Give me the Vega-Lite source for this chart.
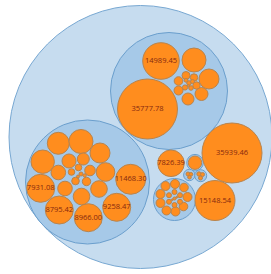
{
  "$schema": "https://vega.github.io/schema/vega-lite/v6.json",
  "width": 271,
  "height": 274,
  "padding": 0,
  "autosize": {"type": "none"},
  "background": "white",
  "config": {"view": {"stroke": null}},
  "data": {"values": [
    {"cx": 140.5, "cy": 137, "r": 131.5, "kind": "root", "depth": 0},
    {"cx": 169, "cy": 91, "r": 58.5, "kind": "group", "depth": 1},
    {"cx": 87.5, "cy": 182, "r": 62, "kind": "group", "depth": 1},
    {"cx": 174.5, "cy": 199.5, "r": 21, "kind": "group", "depth": 1},
    {"cx": 195, "cy": 162.7, "r": 8.3, "kind": "group", "depth": 1},
    {"cx": 189.3, "cy": 175, "r": 5.7, "kind": "group", "depth": 1},
    {"cx": 200.7, "cy": 175.7, "r": 6, "kind": "group", "depth": 1},

    {"cx": 147.5, "cy": 109, "r": 30, "kind": "leaf", "depth": 2, "label": "35777.78"},
    {"cx": 161, "cy": 61, "r": 18.3, "kind": "leaf", "depth": 2, "label": "14989.45"},
    {"cx": 194, "cy": 60, "r": 12, "kind": "leaf", "depth": 2},
    {"cx": 209, "cy": 79, "r": 10, "kind": "leaf", "depth": 2},
    {"cx": 201.5, "cy": 94, "r": 6.5, "kind": "leaf", "depth": 2},
    {"cx": 188, "cy": 99, "r": 6, "kind": "leaf", "depth": 2},
    {"cx": 178.5, "cy": 90.5, "r": 4.5, "kind": "leaf", "depth": 2},
    {"cx": 178.5, "cy": 81, "r": 4.3, "kind": "leaf", "depth": 2},
    {"cx": 186, "cy": 75.5, "r": 4, "kind": "leaf", "depth": 2},
    {"cx": 194, "cy": 77.5, "r": 3.7, "kind": "leaf", "depth": 2},
    {"cx": 196.5, "cy": 85.5, "r": 3.7, "kind": "leaf", "depth": 2},
    {"cx": 189, "cy": 83, "r": 2.3, "kind": "leaf", "depth": 2},
    {"cx": 185, "cy": 87.5, "r": 2.6, "kind": "leaf", "depth": 2},
    {"cx": 186, "cy": 80.3, "r": 1.9, "kind": "leaf", "depth": 2},
    {"cx": 191, "cy": 88, "r": 2.3, "kind": "leaf", "depth": 2},
    {"cx": 192.5, "cy": 81.5, "r": 2, "kind": "leaf", "depth": 2},
    {"cx": 188.5, "cy": 85.8, "r": 1.1, "kind": "leaf", "depth": 2},

    {"cx": 130.7, "cy": 179.3, "r": 15, "kind": "leaf", "depth": 2, "label": "11468.30"},
    {"cx": 40.7, "cy": 188.3, "r": 14, "kind": "leaf", "depth": 2, "label": "7931.08"},
    {"cx": 59.3, "cy": 210, "r": 14, "kind": "leaf", "depth": 2, "label": "8795.42"},
    {"cx": 88.3, "cy": 217.7, "r": 14, "kind": "leaf", "depth": 2, "label": "8966.00"},
    {"cx": 116.7, "cy": 207.3, "r": 14, "kind": "leaf", "depth": 2, "label": "9258.47"},
    {"cx": 42.7, "cy": 161.7, "r": 11.7, "kind": "leaf", "depth": 2},
    {"cx": 58.3, "cy": 143.3, "r": 11, "kind": "leaf", "depth": 2},
    {"cx": 81, "cy": 141.5, "r": 12, "kind": "leaf", "depth": 2},
    {"cx": 100, "cy": 153, "r": 10, "kind": "leaf", "depth": 2},
    {"cx": 105.5, "cy": 172, "r": 9.3, "kind": "leaf", "depth": 2},
    {"cx": 99, "cy": 189, "r": 8.3, "kind": "leaf", "depth": 2},
    {"cx": 81.5, "cy": 196.5, "r": 8.3, "kind": "leaf", "depth": 2},
    {"cx": 65, "cy": 188.5, "r": 7.3, "kind": "leaf", "depth": 2},
    {"cx": 58.3, "cy": 172.5, "r": 7.3, "kind": "leaf", "depth": 2},
    {"cx": 69, "cy": 161, "r": 7, "kind": "leaf", "depth": 2},
    {"cx": 83.3, "cy": 159, "r": 6, "kind": "leaf", "depth": 2},
    {"cx": 90, "cy": 170.5, "r": 5.3, "kind": "leaf", "depth": 2},
    {"cx": 86.5, "cy": 181.5, "r": 4.2, "kind": "leaf", "depth": 2},
    {"cx": 75.5, "cy": 181, "r": 3.8, "kind": "leaf", "depth": 2},
    {"cx": 71.5, "cy": 172, "r": 3.3, "kind": "leaf", "depth": 2},
    {"cx": 78.5, "cy": 167.5, "r": 3.3, "kind": "leaf", "depth": 2},
    {"cx": 81, "cy": 174, "r": 2, "kind": "leaf", "depth": 2},
    {"cx": 84.7, "cy": 175.5, "r": 1.7, "kind": "leaf", "depth": 2},
    {"cx": 78, "cy": 176.5, "r": 1.5, "kind": "leaf", "depth": 2},

    {"cx": 232, "cy": 153, "r": 30, "kind": "leaf", "depth": 2, "label": "35939.46"},
    {"cx": 215, "cy": 200.5, "r": 20, "kind": "leaf", "depth": 2, "label": "15148.54"},
    {"cx": 171, "cy": 163.3, "r": 13.3, "kind": "leaf", "depth": 2, "label": "7826.39"},
    {"cx": 195, "cy": 162.7, "r": 6.7, "kind": "leaf", "depth": 2},

    {"cx": 175, "cy": 184, "r": 4.5, "kind": "leaf", "depth": 2},
    {"cx": 184, "cy": 187.5, "r": 4.3, "kind": "leaf", "depth": 2},
    {"cx": 187.5, "cy": 197, "r": 4.5, "kind": "leaf", "depth": 2},
    {"cx": 183.5, "cy": 206.5, "r": 4.3, "kind": "leaf", "depth": 2},
    {"cx": 175.5, "cy": 211.5, "r": 4.5, "kind": "leaf", "depth": 2},
    {"cx": 166.5, "cy": 210.5, "r": 4.5, "kind": "leaf", "depth": 2},
    {"cx": 160.5, "cy": 203, "r": 4.5, "kind": "leaf", "depth": 2},
    {"cx": 160.5, "cy": 194, "r": 4.5, "kind": "leaf", "depth": 2},
    {"cx": 165.5, "cy": 186, "r": 4.5, "kind": "leaf", "depth": 2},
    {"cx": 174.5, "cy": 192, "r": 2.5, "kind": "leaf", "depth": 2},
    {"cx": 180, "cy": 195.2, "r": 2.5, "kind": "leaf", "depth": 2},
    {"cx": 180, "cy": 201.8, "r": 2.5, "kind": "leaf", "depth": 2},
    {"cx": 174.5, "cy": 205, "r": 2.5, "kind": "leaf", "depth": 2},
    {"cx": 169, "cy": 201.8, "r": 2.5, "kind": "leaf", "depth": 2},
    {"cx": 169, "cy": 195.2, "r": 2.5, "kind": "leaf", "depth": 2},
    {"cx": 174.5, "cy": 198.5, "r": 1.5, "kind": "leaf", "depth": 2},
    {"cx": 176.7, "cy": 197.3, "r": 0.9, "kind": "leaf", "depth": 2},
    {"cx": 172.3, "cy": 199.7, "r": 0.9, "kind": "leaf", "depth": 2},

    {"cx": 188, "cy": 174, "r": 2, "kind": "leaf", "depth": 2},
    {"cx": 191, "cy": 174.3, "r": 1.8, "kind": "leaf", "depth": 2},
    {"cx": 189.5, "cy": 177.3, "r": 1.8, "kind": "leaf", "depth": 2},
    {"cx": 199, "cy": 174, "r": 2.2, "kind": "leaf", "depth": 2},
    {"cx": 202.5, "cy": 174.5, "r": 2, "kind": "leaf", "depth": 2},
    {"cx": 200.5, "cy": 178, "r": 2, "kind": "leaf", "depth": 2}
  ]},
  "encoding": {
    "x": {"field": "cx", "type": "quantitative", "scale": {"domain": [0, 271], "nice": false, "zero": false}, "axis": null},
    "y": {"field": "cy", "type": "quantitative", "scale": {"domain": [0, 274], "nice": false, "zero": false, "reverse": true}, "axis": null}
  },
  "layer": [
    {
      "mark": {"type": "circle", "opacity": 1, "strokeWidth": 1, "strokeOpacity": 1},
      "encoding": {
        "size": {"field": "r", "type": "quantitative", "scale": {"type": "pow", "exponent": 2, "domain": [0, 100], "range": [0, 40000], "zero": true}, "legend": null},
        "color": {"field": "kind", "type": "nominal", "scale": {"domain": ["root", "group", "leaf"], "range": ["#c6dcef", "#a6c9e8", "#ff8d1e"]}, "legend": null},
        "stroke": {"field": "kind", "type": "nominal", "scale": {"domain": ["root", "group", "leaf"], "range": ["#78a8d2", "#6b9fcd", "#b7844f"]}, "legend": null},
        "order": {"field": "depth", "type": "quantitative"}
      }
    },
    {
      "transform": [{"filter": "datum.label != null"}],
      "mark": {"type": "text", "font": "Open Sans", "fontSize": 7.5, "color": "#86290f", "align": "center", "baseline": "middle"},
      "encoding": {
        "text": {"field": "label", "type": "nominal"}
      }
    }
  ]
}
